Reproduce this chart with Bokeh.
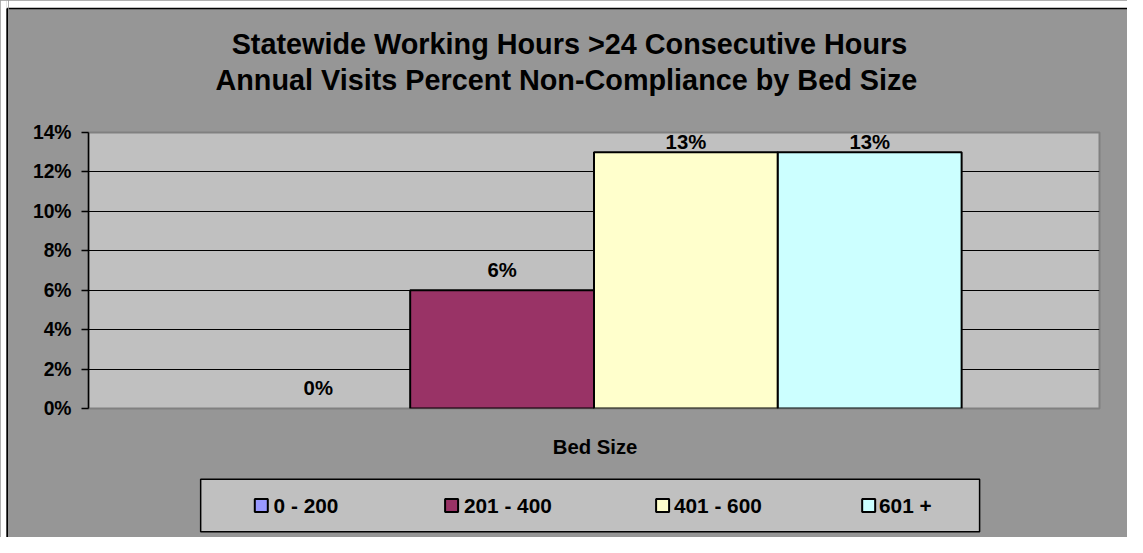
from bokeh.plotting import figure
from bokeh.layouts import column, row
from bokeh.models import Range1d, FixedTicker, NumeralTickFormatter, ColumnDataSource
from bokeh.core.properties import value
from bokeh.embed import file_html
from bokeh.resources import INLINE

# ---------------- data ----------------
title_lines = ["Statewide Working Hours >24 Consecutive Hours",
               "Annual Visits Percent  Non-Compliance by Bed Size"]
category = "Bed Size"
series = ["0 - 200", "201 - 400", "401 - 600", "601 +"]
values = [0.00, 0.06, 0.13, 0.13]
y_ticks = [0.0, 0.02, 0.04, 0.06, 0.08, 0.10, 0.12, 0.14]
colors = ["#9999ff", "#993366", "#ffffcc", "#ccffff"]

# ---------------- layout (reference pixels, scaled to the canvas) ----------------
FONT = "Liberation Sans"
W, H = 1127, 537
SX, SY = W / 1143, H / 553
BG = "#969696"
PLOT_BG = "#c0c0c0"


def X(px):
    return px * SX


def Y(py):
    return py * SY


STRIP = 8                              # white margin strip + frame line on the left
LEFT, RIGHT = round(X(89)), round(X(1115))
TOP, BOTTOM = round(Y(136)), round(Y(420))
PAD = 12                               # room for the top / bottom tick labels
TOP_H = TOP - PAD
MAIN_H = (BOTTOM - TOP) + 2 * PAD
BOT_Y0 = TOP_H + MAIN_H
BOT_H = H - BOT_Y0
GAP = 1.5                              # gap width (fraction of bar width)
TITLE_XY = [(577, 44.5), (578, 81.5)]
CAT_XY = (603, 460)
LEG_BOX = (203, 993, 493, 547)
LEG_SWATCH_X = [264.5, 457.5, 671.5, 880.5]
LEG_TEXT_X = [277, 470, 683, 891]
LEG_Y = 520
TITLE_SIZE = "28.8px"
TICK_SIZE = "19.3px"
TEXT_SIZE = "20.3px"
LEG_SIZE = "20.8px"


def deco(width, height, xr, yr):
    f = figure(width=width, height=height, x_range=Range1d(*xr), y_range=Range1d(*yr),
               x_axis_type=None, y_axis_type=None, min_border=0,
               min_border_left=0, min_border_right=0, min_border_top=0, min_border_bottom=0,
               frame_align=False,
               output_backend="svg", toolbar_location=None, tools="")
    f.background_fill_color = BG
    f.border_fill_color = BG
    f.outline_line_color = None
    f.grid.visible = False
    return f


# ---- left strip (white margin + chart border) ----
strip = deco(STRIP, H, (0, STRIP), (H, 0))
strip.quad(left=[0], right=[X(6)], top=[0], bottom=[H], fill_color="white", line_color=None)
strip.quad(left=[X(6)], right=[STRIP], top=[0], bottom=[Y(8)], fill_color="white", line_color=None)
strip.segment(x0=[X(6.8)], y0=[Y(8.3)], x1=[X(6.8)], y1=[H], line_color="black", line_width=1.6)
strip.segment(x0=[X(6.8)], y0=[Y(8.3)], x1=[STRIP], y1=[Y(8.3)], line_color="black", line_width=1.6)

CW = W - STRIP

# ---- title area ----
top = deco(CW, TOP_H, (STRIP, W), (TOP_H, 0))
top.quad(left=[STRIP], right=[W], top=[0], bottom=[Y(8)], fill_color="white", line_color=None)
top.segment(x0=[STRIP], y0=[Y(8.3)], x1=[W], y1=[Y(8.3)], line_color="black", line_width=1.6)
top.text(x=[X(xy[0]) for xy in TITLE_XY], y=[Y(xy[1]) for xy in TITLE_XY], text=title_lines,
         text_align="center", text_baseline="middle", text_font=value(FONT),
         text_font_style="bold", text_font_size=TITLE_SIZE, text_color="black")

# ---- main chart ----
n = len(series)
xs = list(range(n))
x0, x1 = -0.5 - GAP / 2, n - 0.5 + GAP / 2
y0, y1 = y_ticks[0], y_ticks[-1]

p = figure(frame_width=RIGHT - LEFT, frame_height=BOTTOM - TOP,
           min_border_left=LEFT - STRIP, min_border_right=W - RIGHT,
           min_border_top=PAD, min_border_bottom=PAD, frame_align=False,
           x_range=Range1d(x0, x1), y_range=Range1d(y0, y1),
           output_backend="svg", toolbar_location=None, tools="")
p.background_fill_color = PLOT_BG
p.border_fill_color = BG
p.outline_line_color = "#808080"
p.outline_line_width = 2
p.xaxis.visible = False
p.xgrid.visible = False

ax = p.yaxis[0]
ax.ticker = FixedTicker(ticks=y_ticks)
ax.formatter = NumeralTickFormatter(format="0%")
ax.major_label_text_font = FONT
ax.major_label_text_font_style = "bold"
ax.major_label_text_font_size = TICK_SIZE
ax.major_label_text_color = "black"
ax.axis_line_color = "black"
ax.axis_line_width = 1.5
ax.major_tick_line_color = "black"
ax.major_tick_line_width = 1.5
ax.major_tick_out = 7
ax.major_tick_in = 0
ax.minor_tick_out = 0
ax.minor_tick_in = 0
ax.major_label_standoff = 10

p.ygrid.ticker = FixedTicker(ticks=y_ticks[1:-1])
p.ygrid.grid_line_color = "black"
p.ygrid.grid_line_width = 1

bar_src = ColumnDataSource(dict(x=xs, top=values, color=colors,
                                line=["black" if v > 0 else None for v in values]))
p.vbar(x="x", top="top", bottom=0, width=1, source=bar_src,
       fill_color="color", line_color="line", line_width=2)

fh = BOTTOM - TOP
offsets = []
for v in values:
    top_px = fh - (v - y0) / (y1 - y0) * fh       # from frame top
    off = -Y(21)
    if top_px + off < Y(9.5):
        off = Y(9.5) - top_px
    offsets.append(off)
lab_src = ColumnDataSource(dict(x=xs, y=values,
                                t=[f"{v * 100:.0f}%" for v in values], off=offsets))
p.text(x="x", y="y", text="t", y_offset="off", source=lab_src,
       text_align="center", text_baseline="middle", text_font=value(FONT),
       text_font_style="bold", text_font_size=TEXT_SIZE, text_color="black")

# ---- category title + legend ----
bot = deco(CW, BOT_H, (STRIP, W), (H, BOT_Y0))
bot.text(x=[X(CAT_XY[0])], y=[Y(CAT_XY[1])], text=[category],
         text_align="center", text_baseline="middle", text_font=value(FONT),
         text_font_style="bold", text_font_size=TEXT_SIZE, text_color="black")
l, r, t, b = LEG_BOX
bot.quad(left=[X(l)], right=[X(r)], top=[Y(t)], bottom=[Y(b)],
         fill_color=PLOT_BG, line_color="black", line_width=1.5)
leg_src = ColumnDataSource(dict(sx=[X(v) for v in LEG_SWATCH_X], tx=[X(v) for v in LEG_TEXT_X],
                                y=[Y(LEG_Y)] * n, label=series, color=colors))
bot.rect(x="sx", y="y", width=13, height=13, width_units="screen", height_units="screen",
         source=leg_src, fill_color="color", line_color="black", line_width=2)
bot.text(x="tx", y="y", text="label", source=leg_src, text_align="left",
         text_baseline="middle", text_font=value(FONT), text_font_style="bold",
         text_font_size=LEG_SIZE, text_color="black")

bg_style = {"background-color": BG}
layout = row(strip, column(top, p, bot, spacing=0, styles=bg_style),
             spacing=0, styles=bg_style)
open("out.html", "w").write(file_html(layout, INLINE))
